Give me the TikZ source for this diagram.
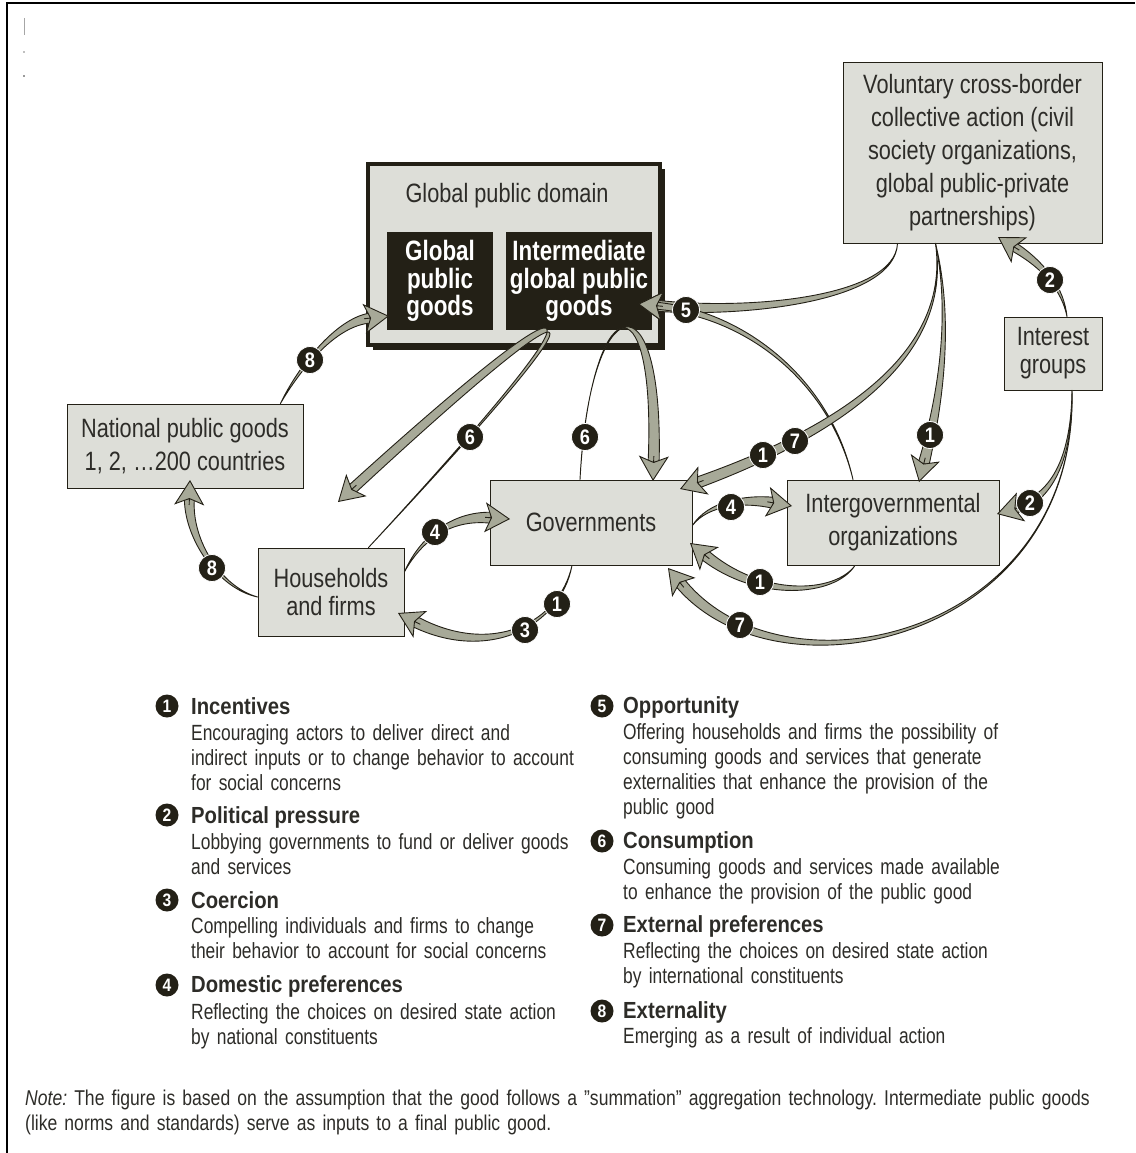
\documentclass[tikz,border=0pt]{standalone}
\usepackage{fontspec}
\setmainfont{Liberation Sans}[FakeStretch=0.82]
\newfontfamily\headfont{Liberation Sans}[FakeStretch=0.87]
\newfontfamily\bodyfont{Liberation Sans}[FakeStretch=0.79]
\newfontfamily\boxboldfont{Liberation Sans}[FakeStretch=0.80]
\usetikzlibrary{arrows.meta,calc,positioning,shadows}
\frenchspacing

\definecolor{dark}{RGB}{35,32,22}
\definecolor{boxgrey}{RGB}{221,222,216}
\definecolor{argrey}{RGB}{167,169,152}
\definecolor{textgrey}{RGB}{45,44,40}

% tapered arrow: start, two controls, tip, half width at the head
\newcommand\taper[5]{%
  \path #4 coordinate (tp);
  \path ($(tp)!19pt!#3$) coordinate (bs);
  \filldraw[arrbody] #1
    .. controls ($#2!#5/3!90:#3$) and ($#3!#5*2/3!90:(bs)$) .. ($(bs)!#5!-90:#3$)
    -- ($(bs)!#5!90:#3$)
    .. controls ($#3!#5*2/3!-90:(bs)$) and ($#2!#5/3!-90:#3$) .. #1 -- cycle;
  \draw[arrhead] ($(bs)!6pt!#3$) -- (tp);
}

\begin{document}
\begin{tikzpicture}[x=1pt, y=-1pt,
  box/.style={draw=dark, line width=0.8pt, fill=boxgrey, text=textgrey, align=center,
    inner sep=0pt, font=\fontsize{26.5}{33}\selectfont},
  tight/.style={font=\fontsize{26.5}{28}\selectfont},
  goods/.style={fill=dark, text=white, align=center, inner sep=0pt,
    font=\boxboldfont\bfseries\fontsize{28}{27.5}\selectfont},
  num/.style={circle, fill=dark, draw=white, line width=0.8pt, text=white, inner sep=0pt,
    minimum size=27pt, font=\headfont\bfseries\fontsize{21}{21}\selectfont},
  legnum/.style={num, draw=none, minimum size=23pt, font=\headfont\bfseries\fontsize{18}{18}\selectfont},
  leghead/.style={anchor=base west, inner sep=0pt, text=textgrey,
    font=\headfont\bfseries\fontsize{23.3}{25}\selectfont},
  legbody/.style={anchor=base west, inner sep=0pt, text width=440pt, align=left,
    text=textgrey, font=\bodyfont\fontsize{22}{25}\selectfont},
  arrbody/.style={fill=argrey, draw=dark, line width=0.9pt, line join=round},
  arrhead/.style={draw=dark, line width=0.9pt,
    -{Stealth[length=25pt, width=30pt, inset=6pt, fill=argrey]}}]

\useasboundingbox (0,0) rectangle (1135,1153);
\draw[line width=2.5pt] (7,1153) -- (7,3) -- (1135,3);
\draw[black!35, line width=1pt] (24,18) -- (24,35);
\fill[black!50] (24,52) circle (0.9pt);
\fill[black!80] (24,76) circle (0.9pt);

% boxes
\node[box, line width=4pt, minimum width=292pt, minimum height=181pt,
  drop shadow={shadow xshift=5pt, shadow yshift=-5pt, fill=dark, opacity=1}] (domain) at (514,254.5) {};
\node[text=textgrey, font=\fontsize{26.5}{33}\selectfont] (domtitle) at (507,196) {Global public domain};
\node[goods, minimum width=106pt, minimum height=98pt] (gpg) at (440,281) {Global\\public\\goods};
\node[goods, minimum width=146pt, minimum height=98pt] (igpg) at (579,281) {Intermediate\\global public\\goods};

\node[box, minimum width=259pt, minimum height=181pt] (vol) at (972.5,152.5)
  {Voluntary cross-border\\collective action (civil\\society organizations,\\global public-private\\partnerships)};
\node[box, tight, minimum width=98pt, minimum height=73pt] (interest) at (1053,353.5) {Interest\\groups};
\node[box, minimum width=236pt, minimum height=84pt] (natl) at (185,446) {National public goods\\1, 2, \ldots200 countries};
\node[box, tight, minimum width=146pt, minimum height=88pt] (house) at (331,592) {Households\\and firms};
\node[box, minimum width=202pt, minimum height=85pt] (gov) at (591,522.5) {Governments};
\node[box, minimum width=212pt, minimum height=85pt] (igo) at (893,522.5) {Intergovernmental\\organizations};

% arrows
\taper{([xshift=-23pt]natl.north east)}{(298,370)}{(335,322)}{(389,316)}{5pt}
\taper{([yshift=-5pt]house.west)}{(220,588)}{(188,540)}{(190,480)}{5pt}
\taper{([xshift=-36pt]house.north east)}{(640,255)}{(580,280)}{(338,502)}{5pt}
\taper{([xshift=-11pt]gov.north)}{(590,290)}{(660,270)}{(653,481)}{5.5pt}
\taper{([xshift=-75pt]vol.south)}{(895,300)}{(745,314)}{(638,304)}{5.5pt}
\taper{([xshift=-40pt]igo.north)}{(830,380)}{(745,314)}{(638,304)}{3.5pt}
\taper{([xshift=-37pt]vol.south)}{(955,330)}{(935,420)}{(919,482)}{5.5pt}
\taper{([xshift=-37pt]vol.south)}{(950,340)}{(870,420)}{(680,489)}{5.5pt}
\taper{([xshift=14pt]interest.north)}{(1063,290)}{(1045,266)}{(998,237)}{4.5pt}
\taper{([xshift=19pt]interest.south)}{(1072,470)}{(1045,500)}{(997,514)}{4.5pt}
\taper{([xshift=19pt]interest.south)}{(1078,640)}{(780,705)}{(668,568)}{5.5pt}
\taper{([xshift=-38pt]igo.south)}{(835,595)}{(760,600)}{(690,543)}{5.5pt}
\taper{([yshift=-3pt]gov.east)}{(708,503)}{(745,498)}{(792,506)}{5.5pt}
\taper{([yshift=20pt]house.east)}{(420,540)}{(450,515)}{(510,519)}{5.5pt}
\taper{([xshift=-19pt]gov.south)}{(560,625)}{(490,660)}{(398,613)}{5.5pt}

% numbers on the arrows
\node[num] (n8a) at (310,360) {8};
\node[num] (n8b) at (212,568) {8};
\node[num] (n6a) at (470,437) {6};
\node[num] (n6b) at (585,437) {6};
\node[num] (n5) at (686,310) {5};
\node[num] (n1a) at (930,435) {1};
\node[num] (n1b) at (763,455) {1};
\node[num] (n7a) at (795,441) {7};
\node[num] (n2a) at (1050,280) {2};
\node[num] (n2b) at (1030,503) {2};
\node[num] (n4a) at (731,507) {4};
\node[num] (n1c) at (760,582) {1};
\node[num] (n7b) at (740,625) {7};
\node[num] (n4b) at (435,532) {4};
\node[num] (n1d) at (557,604) {1};
\node[num] (n3) at (525,630) {3};

% legend
\node[legnum] (k1) at (167,706) {1};
\node[leghead] (h1) at (191,714) {Incentives};
\node[legbody] (b1) at (191,740) {Encouraging actors to deliver direct and\\indirect inputs or to change behavior to account\\for social concerns};
\node[legnum] (k2) at (167,815) {2};
\node[leghead] (h2) at (191,823) {Political pressure};
\node[legbody] (b2) at (191,849) {Lobbying governments to fund or deliver goods\\and services};
\node[legnum] (k3) at (167,900) {3};
\node[leghead] (h3) at (191,908) {Coercion};
\node[legbody] (b3) at (191,933) {Compelling individuals and firms to change\\their behavior to account for social concerns};
\node[legnum] (k4) at (167,985) {4};
\node[leghead] (h4) at (191,992) {Domestic preferences};
\node[legbody] (b4) at (191,1019) {Reflecting the choices on desired state action\\by national constituents};

\node[legnum] (k5) at (602,706) {5};
\node[leghead] (h5) at (623,713) {Opportunity};
\node[legbody] (b5) at (623,739) {Offering households and firms the possibility of\\consuming goods and services that generate\\externalities that enhance the provision of the\\public good};
\node[legnum] (k6) at (602,841) {6};
\node[leghead] (h6) at (623,848) {Consumption};
\node[legbody] (b6) at (623,874) {Consuming goods and services made available\\to enhance the provision of the public good};
\node[legnum] (k7) at (602,925) {7};
\node[leghead] (h7) at (623,932) {External preferences};
\node[legbody] (b7) at (623,958) {Reflecting the choices on desired state action\\by international constituents};
\node[legnum] (k8) at (602,1011) {8};
\node[leghead] (h8) at (623,1018) {Externality};
\node[legbody] (b8) at (623,1043) {Emerging as a result of individual action};

% note
\node[anchor=base west, inner sep=0pt, text width=1100pt, align=left, text=textgrey,
  font=\fontsize{21.4}{25}\selectfont] (note) at (25,1105)
  {\textit{Note:} The figure is based on the assumption that the good follows a "summation" aggregation technology. Intermediate public goods\\(like norms and standards) serve as inputs to a final public good.};
\end{tikzpicture}
\end{document}
